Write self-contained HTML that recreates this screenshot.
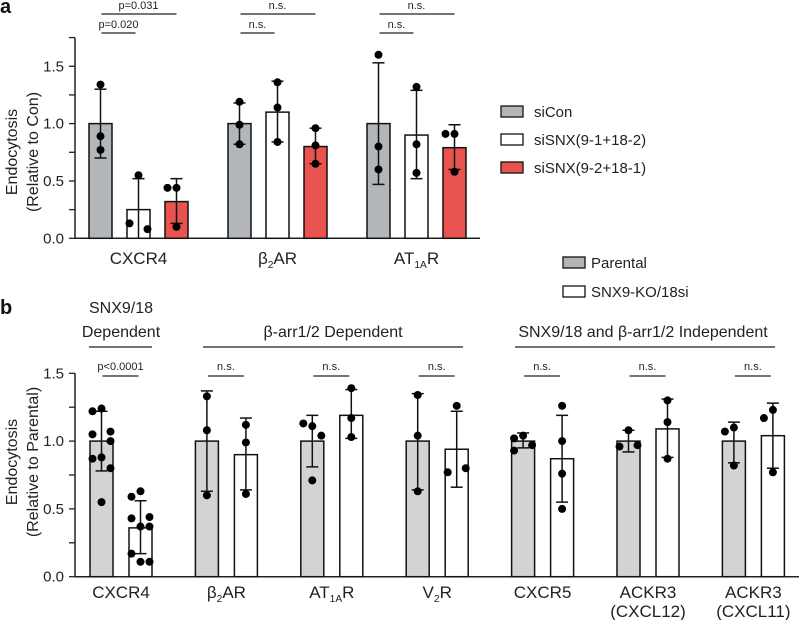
<!DOCTYPE html>
<html><head><meta charset="utf-8">
<style>
body{margin:0;background:#fff;}
svg{display:block;font-family:"Liberation Sans",Arial,sans-serif;}
</style></head>
<body>
<svg id="fig" width="799" height="620" viewBox="0 0 799 620"></svg>
<script>
// ---------- Panel a data ----------
const aCategories = ["CXCR4","β2AR","AT1AR"];
const aSeries = ["siCon","siSNX(9-1+18-2)","siSNX(9-2+18-1)"];
const aMeans = [[1.0,0.25,0.32],[1.0,1.10,0.80],[1.0,0.90,0.79]];
const aErrHigh = [[1.30,0.52,0.52],[1.18,1.37,0.96],[1.53,1.29,0.99]];
const aErrLow = [[0.70,0.0,0.13],[0.82,0.84,0.65],[0.47,0.52,0.60]];
const aPoints = [
 [[1.34,0.89,0.77],[0.55,0.13,0.08],[0.44,0.44,0.10]],
 [[1.19,0.99,0.82],[1.36,1.14,0.84],[0.96,0.81,0.65]],
 [[1.60,0.80,0.60],[1.32,0.82,0.57],[0.91,0.91,0.58]]
];
const aTicks = ["0.0","0.5","1.0","1.5"];
// ---------- Panel b data ----------
const bCategories = ["CXCR4","β2AR","AT1AR","V2R","CXCR5","ACKR3 (CXCL12)","ACKR3 (CXCL11)"];
const bSeries = ["Parental","SNX9-KO/18si"];
const bMeans = [[1.0,0.36],[1.0,0.90],[1.0,1.19],[1.0,0.94],[1.0,0.87],[1.0,1.09],[1.0,1.04]];
const bErrHigh = [[1.22,0.56],[1.37,1.17],[1.19,1.38],[1.35,1.22],[1.06,1.19],[1.08,1.31],[1.14,1.28]];
const bErrLow = [[0.78,0.17],[0.63,0.64],[0.81,1.02],[0.64,0.66],[0.95,0.55],[0.92,0.88],[0.84,0.80]];
const bPoints = [
 [[1.24,1.22,1.07,1.05,1.0,0.88,0.87,0.80,0.55],[0.63,0.59,0.44,0.43,0.37,0.37,0.17,0.11,0.11]],
 [[1.33,1.08,0.60],[1.12,0.99,0.61]],
 [[1.11,1.13,1.04,0.71],[1.39,1.17,1.03]],
 [[1.34,1.04,0.63],[1.26,0.77,0.80]],
 [[1.04,1.02,0.97,0.93],[1.26,1.0,0.76,0.50]],
 [[1.08,0.96,0.97],[1.30,1.14,0.87]],
 [[1.10,1.07,0.82],[1.23,1.17,0.77]]
];
const bSig = ["p<0.0001","n.s.","n.s.","n.s.","n.s.","n.s.","n.s."];
const bTicks = ["0.0","0.5","1.0","1.5"];

const NS="http://www.w3.org/2000/svg";
const svg=document.getElementById('fig');
function mk(tag,attrs,parent){const e=document.createElementNS(NS,tag);for(const k in attrs)e.setAttribute(k,attrs[k]);(parent||svg).appendChild(e);return e;}
function txt(x,y,s,size,anchor,parent){const t=mk('text',{x:x,y:y,'font-size':size,'text-anchor':anchor||'middle',fill:'#222'},parent);t.textContent=s;return t;}
function sub(x,y,base,subs,rest,size,parent){
 const t=mk('text',{x:x,y:y,'font-size':size,'text-anchor':'middle',fill:'#222'},parent);
 t.appendChild(document.createTextNode(base));
 const s=mk('tspan',{'font-size':size*0.6,dy:4},t);s.textContent=subs;
 const r=mk('tspan',{dy:-4},t);r.textContent=rest;return t;}
function label(x,y,name,size,parent){
 if(name==="β2AR")return sub(x,y,"β","2","AR",size,parent);
 if(name==="AT1AR")return sub(x,y,"AT","1A","R",size,parent);
 if(name==="V2R")return sub(x,y,"V","2","R",size,parent);
 const parts=name.split(" ");
 const t=txt(x,y,parts[0],size,'middle',parent);
 if(parts[1]){txt(x,y+19,parts[1],size,'middle',parent);}
 return t;}
const jit=[0,-9,9,-9,9,0,-9,9,0];
function jitter(pts,i){
 let close=pts.some((v,j)=>j!==i&&Math.abs(v-pts[i])<0.08);
 return close?jit[i%jit.length]:(pts.length>4?jit[i%jit.length]:0);}

function panel(cfg){
 const g=mk('g',{});
 
 
 const y=v=>cfg.y0-v*cfg.k;
 const ax=mk('g',{},g);
 
 
 mk('line',{x1:cfg.ax,x2:cfg.ax,y1:y(cfg.ymax),y2:cfg.y0,stroke:'#222','stroke-width':1.5},ax);
 mk('line',{x1:cfg.ax,x2:cfg.xend,y1:cfg.y0,y2:cfg.y0,stroke:'#222','stroke-width':1.5},ax);
 for(let v=0;v<=cfg.ymax+1e-6;v+=0.25){mk('line',{x1:cfg.ax-6,x2:cfg.ax,y1:y(v),y2:y(v),stroke:'#222','stroke-width':1.3},ax);}
 cfg.ticks.forEach(t=>{const e=txt(cfg.ax-11,y(+t)+5,t,15,'end',ax);
  
  });
 const yt=mk('text',{transform:`translate(${cfg.ytx},${cfg.yty}) rotate(-90)`,'font-size':16,'text-anchor':'middle',fill:'#222'},g);
 
 
 const t1=mk('tspan',{x:0,y:0},yt);t1.textContent="Endocytosis";
 const t2=mk('tspan',{x:0,y:21},yt);t2.textContent=cfg.ysub;
 cfg.cats.forEach((c,ci)=>{
  const gx=cfg.gx0+ci*cfg.gs;
  cfg.means[ci].forEach((m,si)=>{
   const x=gx+si*cfg.ps;
   const b=mk('rect',{x:x,y:y(m),width:cfg.bw,height:m*cfg.k,fill:cfg.colors[si],stroke:'#111','stroke-width':1.5},g);
   
   
   const cx=x+cfg.bw/2;
   const hi=cfg.hi[ci][si],lo=cfg.lo[ci][si];
   const eb=mk('g',{},g);
   
   
   mk('line',{x1:cx,x2:cx,y1:y(hi),y2:y(lo),stroke:'#111','stroke-width':1.5},eb);
   mk('line',{x1:cx-6,x2:cx+6,y1:y(hi),y2:y(hi),stroke:'#111','stroke-width':1.5},eb);
   if(lo>0)mk('line',{x1:cx-6,x2:cx+6,y1:y(lo),y2:y(lo),stroke:'#111','stroke-width':1.5},eb);
   const pts=cfg.pts[ci][si];
   pts.forEach((p,pi)=>{
    const d=mk('circle',{cx:cx+jitter(pts,pi),cy:y(p),r:4,fill:'#000'},g);
    
    
   });
  });
  const lab=label(gx+((cfg.means[ci].length-1)*cfg.ps+cfg.bw)/2,cfg.labY,c,17,g);
  
  
 });
 return {g,y};
}

const pa=panel({name:'panel-a',ax:75,xend:480,y0:238.3,k:114.7,ymax:1.75,ticks:aTicks,ytx:17,yty:152,ysub:"(Relative to Con)",
 cats:aCategories,means:aMeans,hi:aErrHigh,lo:aErrLow,pts:aPoints,gx0:89,gs:139,ps:38,bw:23,
 colors:['#b2b6b9','#ffffff','#e8524f'],labY:264});
const aSigTop=["p=0.031","n.s.","n.s."],aSigLow=["p=0.020","n.s.","n.s."];
aCategories.forEach((c,ci)=>{
 const gx=89+ci*139+11.5;
 mk('line',{x1:gx+1,x2:gx+76,y1:14,y2:14,stroke:'#222','stroke-width':1.3});
 mk('line',{x1:gx+1,x2:gx+35,y1:33,y2:33,stroke:'#222','stroke-width':1.3});
 txt(gx+38,9,aSigTop[ci],11);
 txt(gx+18,28,aSigLow[ci],11);
});
const la=mk('text',{x:0,y:13,'font-size':20,'font-weight':'bold',fill:'#111'});la.textContent='a';


const legA=mk('g',{});


const aCols=['#b2b6b9','#ffffff','#e8524f'];
aSeries.forEach((s,i)=>{
 const yy=106+i*28;
 const e=mk('g',{},legA);
 
 
 mk('rect',{x:501,y:yy,width:22,height:11,fill:aCols[i],stroke:'#111','stroke-width':1.3},e);
 txt(534,yy+11,s,15,'start',e);
});

const pb=panel({name:'panel-b',ax:75,xend:799,y0:576.7,k:135.6,ymax:1.5,ticks:bTicks,ytx:17,yty:462,ysub:"(Relative to Parental)",
 cats:bCategories,means:bMeans,hi:bErrHigh,lo:bErrLow,pts:bPoints,gx0:90,gs:105.4,ps:39,bw:23,
 colors:['#d3d3d3','#ffffff'],labY:598});
bCategories.forEach((c,ci)=>{
 const gx=90+ci*105.4+11.5;
 mk('line',{x1:gx+1,x2:gx+37,y1:376,y2:376,stroke:'#222','stroke-width':1.3});
 txt(gx+19,370,bSig[ci],11);
});
const lb=mk('text',{x:0,y:314,'font-size':20,'font-weight':'bold',fill:'#111'});lb.textContent='b';


const hdr=mk('g',{});


txt(121,313,'SNX9/18',16,'middle',hdr);
txt(121,337,'Dependent',16,'middle',hdr);
mk('line',{x1:89,x2:152,y1:347,y2:347,stroke:'#222','stroke-width':1.3},hdr);
txt(333,337,'β-arr1/2 Dependent',16,'middle',hdr);
mk('line',{x1:203,x2:463,y1:347,y2:347,stroke:'#222','stroke-width':1.3},hdr);
txt(643,337,'SNX9/18 and β-arr1/2 Independent',16,'middle',hdr);
mk('line',{x1:515,x2:775,y1:347,y2:347,stroke:'#222','stroke-width':1.3},hdr);
const legB=mk('g',{});


const bCols=['#b2b6b9','#ffffff'];
bSeries.forEach((s,i)=>{
 const yy=257+i*29;
 const e=mk('g',{},legB);
 
 
 mk('rect',{x:563,y:yy,width:22,height:11,fill:bCols[i],stroke:'#111','stroke-width':1.3},e);
 txt(591,yy+11,s,15,'start',e);
});
</script>
</body></html>
